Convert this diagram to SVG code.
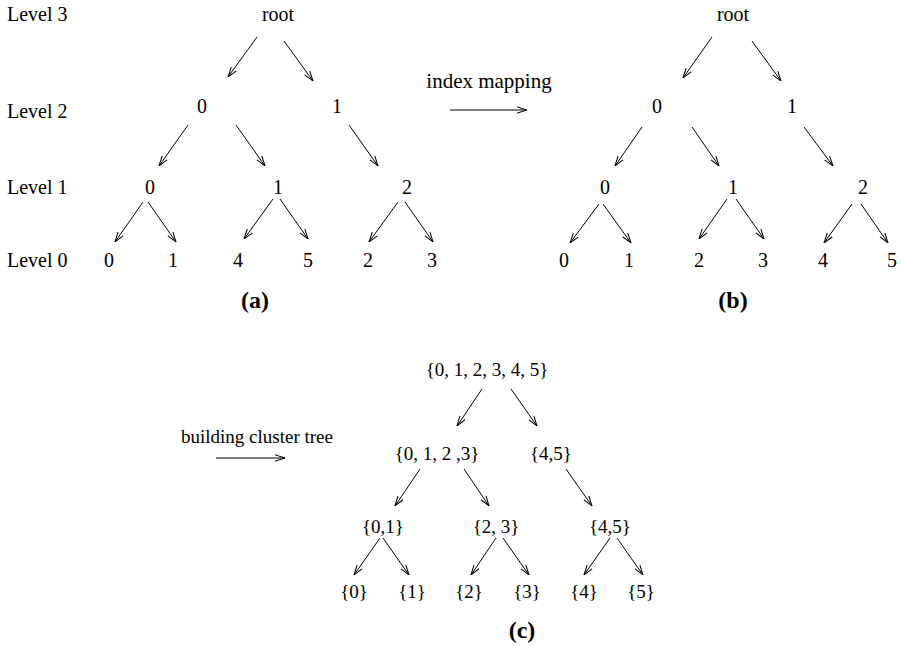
<svg xmlns="http://www.w3.org/2000/svg" width="901" height="646" viewBox="0 0 901 646">
<style>
text{font-size:20px;fill:#000}
.n{text-anchor:middle}
.s{font-size:19px;text-anchor:middle}
.cap{font-weight:bold;font-size:24px;text-anchor:middle}
.lv{text-anchor:start}
.im{font-size:21px;text-anchor:middle}
#connectors line{stroke:#000;stroke-width:1;marker-end:url(#ah)}
</style>
<defs>
<marker id="ah" markerUnits="userSpaceOnUse" viewBox="0 0 10 8" refX="10" refY="4" markerWidth="10" markerHeight="8" orient="auto">
<path d="M0,0.8 L10,4 L0,7.2" fill="none" stroke="#000" stroke-width="1"/>
</marker>
</defs>
<rect width="901" height="646" fill="#fff"/>
<g font-family="'Liberation Serif', 'DejaVu Serif', 'Times New Roman', serif">
<g id="levels">
<text class="lv" x="7" y="21">Level 3</text>
<text class="lv" x="7" y="118">Level 2</text>
<text class="lv" x="7" y="194">Level 1</text>
<text class="lv" x="7" y="267">Level 0</text>
</g>
<g id="tree-a">
<g id="a-root"><text class="n" x="278" y="21">root</text></g>
<g id="a-l2-0"><text class="n" x="202" y="113">0</text></g>
<g id="a-l2-1"><text class="n" x="337" y="113">1</text></g>
<g id="a-l1-0"><text class="n" x="150" y="194">0</text></g>
<g id="a-l1-1"><text class="n" x="278" y="194">1</text></g>
<g id="a-l1-2"><text class="n" x="407" y="194">2</text></g>
<g id="a-l0-0"><text class="n" x="109" y="267">0</text></g>
<g id="a-l0-1"><text class="n" x="173" y="267">1</text></g>
<g id="a-l0-4"><text class="n" x="238" y="267">4</text></g>
<g id="a-l0-5"><text class="n" x="308" y="267">5</text></g>
<g id="a-l0-2"><text class="n" x="368" y="267">2</text></g>
<g id="a-l0-3"><text class="n" x="432" y="267">3</text></g>
<text class="cap" x="255" y="308">(a)</text>
</g>
<g id="tree-b">
<g id="b-root"><text class="n" x="733" y="21">root</text></g>
<g id="b-l2-0"><text class="n" x="657" y="113">0</text></g>
<g id="b-l2-1"><text class="n" x="792" y="113">1</text></g>
<g id="b-l1-0"><text class="n" x="605" y="194">0</text></g>
<g id="b-l1-1"><text class="n" x="733" y="194">1</text></g>
<g id="b-l1-2"><text class="n" x="863" y="194">2</text></g>
<g id="b-l0-0"><text class="n" x="564" y="267">0</text></g>
<g id="b-l0-1"><text class="n" x="629" y="267">1</text></g>
<g id="b-l0-2"><text class="n" x="699" y="267">2</text></g>
<g id="b-l0-3"><text class="n" x="763" y="267">3</text></g>
<g id="b-l0-4"><text class="n" x="823" y="267">4</text></g>
<g id="b-l0-5"><text class="n" x="892" y="267">5</text></g>
<text class="cap" x="733" y="308">(b)</text>
</g>
<g id="label-index"><text class="im" x="489" y="88">index mapping</text></g>
<g id="label-build"><text class="s" x="257" y="443">building cluster tree</text></g>
<g id="tree-c">
<g id="c-root"><text class="s" x="487" y="376">{0, 1, 2, 3, 4, 5}</text></g>
<g id="c-l2-0"><text class="s" x="437" y="460">{0, 1, 2 ,3}</text></g>
<g id="c-l2-1"><text class="s" x="551" y="460">{4,5}</text></g>
<g id="c-l1-0"><text class="s" x="383" y="533">{0,1}</text></g>
<g id="c-l1-1"><text class="s" x="496" y="533">{2, 3}</text></g>
<g id="c-l1-2"><text class="s" x="610" y="533">{4,5}</text></g>
<g id="c-l0-0"><text class="s" x="354" y="598">{0}</text></g>
<g id="c-l0-1"><text class="s" x="412" y="598">{1}</text></g>
<g id="c-l0-2"><text class="s" x="469" y="598">{2}</text></g>
<g id="c-l0-3"><text class="s" x="527" y="598">{3}</text></g>
<g id="c-l0-4"><text class="s" x="584" y="598">{4}</text></g>
<g id="c-l0-5"><text class="s" x="641" y="598">{5}</text></g>
<text class="cap" x="522" y="638">(c)</text>
</g>
</g>
<g id="connectors">
<line x1="257" y1="37" x2="228" y2="77"/>
<line x1="284" y1="41" x2="313" y2="81"/>
<line x1="188" y1="125" x2="159" y2="166"/>
<line x1="236" y1="125" x2="265" y2="166"/>
<line x1="349" y1="125" x2="378" y2="166"/>
<line x1="143" y1="202" x2="115" y2="242"/>
<line x1="148" y1="202" x2="176" y2="242"/>
<line x1="273" y1="199" x2="244" y2="239"/>
<line x1="280" y1="199" x2="308" y2="239"/>
<line x1="398" y1="202" x2="369" y2="242"/>
<line x1="405" y1="202" x2="433" y2="242"/>
<line x1="712" y1="37" x2="683" y2="78"/>
<line x1="752" y1="41" x2="781" y2="81"/>
<line x1="642" y1="127" x2="615" y2="166"/>
<line x1="692" y1="127" x2="719" y2="166"/>
<line x1="804" y1="127" x2="833" y2="166"/>
<line x1="599" y1="204" x2="570" y2="243"/>
<line x1="603" y1="204" x2="631" y2="243"/>
<line x1="727" y1="199" x2="699" y2="239"/>
<line x1="736" y1="199" x2="764" y2="239"/>
<line x1="852" y1="204" x2="824" y2="243"/>
<line x1="861" y1="204" x2="888" y2="243"/>
<line x1="450" y1="110" x2="527" y2="110"/>
<line x1="482" y1="389" x2="457" y2="426"/>
<line x1="511" y1="389" x2="537" y2="426"/>
<line x1="420" y1="469" x2="395" y2="506"/>
<line x1="464" y1="469" x2="489" y2="506"/>
<line x1="566" y1="469" x2="592" y2="506"/>
<line x1="380" y1="538" x2="354" y2="575"/>
<line x1="383" y1="538" x2="409" y2="575"/>
<line x1="496" y1="538" x2="471" y2="575"/>
<line x1="503" y1="538" x2="529" y2="575"/>
<line x1="610" y1="538" x2="584" y2="575"/>
<line x1="617" y1="538" x2="643" y2="575"/>
<line x1="216" y1="458" x2="285" y2="458"/>
</g>
</svg>
